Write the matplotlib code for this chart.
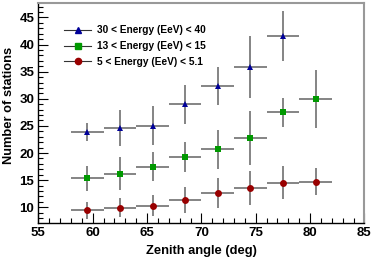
import matplotlib
matplotlib.use("Agg")
import matplotlib.pyplot as plt
from matplotlib.lines import Line2D
from matplotlib.ticker import MultipleLocator

plt.rcParams['font.family'] = ['Liberation Sans', 'DejaVu Sans']

# Data
zenith_blue = [59.5, 62.5, 65.5, 68.5, 71.5, 74.5, 77.5]
stations_blue = [23.9, 24.6, 25.0, 29.0, 32.3, 35.9, 41.6]
err_blue = [1.7, 3.3, 3.6, 3.6, 3.5, 5.7, 4.6]

zenith_green = [59.5, 62.5, 65.5, 68.5, 71.5, 74.5, 77.5, 80.5]
stations_green = [15.3, 16.2, 17.5, 19.3, 20.7, 22.7, 27.5, 30.0]
err_green = [2.3, 3.0, 2.6, 2.8, 3.6, 5.0, 2.7, 5.3]

zenith_red = [59.5, 62.5, 65.5, 68.5, 71.5, 74.5, 77.5, 80.5]
stations_red = [9.45, 9.95, 10.3, 11.3, 12.6, 13.6, 14.55, 14.7]
err_red = [1.6, 1.8, 2.0, 2.4, 2.7, 3.1, 3.05, 2.45]

bin_halfwidth = 1.5

labels = ["30 < Energy (EeV) < 40", "13 < Energy (EeV) < 15", "5 < Energy (EeV) < 5.1"]
colors = ["#000099", "#009900", "#990000"]
markers = ["^", "s", "o"]

fig = plt.figure(figsize=(3.73, 2.57), dpi=100)
ax = fig.add_axes([0.103, 0.1335, 0.874, 0.8535])

series = [(zenith_blue, stations_blue, err_blue),
          (zenith_green, stations_green, err_green),
          (zenith_red, stations_red, err_red)]
msizes = [5.0, 5.0, 5.0]
for (x, y, e), c, m, ms in zip(series, colors, markers, msizes):
    ax.errorbar(x, y, yerr=e, xerr=[bin_halfwidth] * len(x), fmt=m, color=c,
                ecolor="#707070", elinewidth=1.2, capsize=0, markersize=ms,
                markeredgewidth=0, zorder=3)

ax.set_xlim(55, 85)
ax.set_ylim(7.15, 47.6)
ax.xaxis.set_major_locator(MultipleLocator(5))
ax.xaxis.set_minor_locator(MultipleLocator(1))
ax.yaxis.set_major_locator(MultipleLocator(5))
ax.yaxis.set_minor_locator(MultipleLocator(1))
ax.tick_params(which='both', direction='in', top=False, right=False, width=0.8, color='black')
ax.tick_params(which='major', length=7, labelsize=9.5, pad=3)
ax.tick_params(which='minor', length=3.5)
for lab in ax.get_xticklabels() + ax.get_yticklabels():
    lab.set_fontweight('bold')

for s in ['top', 'right']:
    ax.spines[s].set_color('#999999')
    ax.spines[s].set_linewidth(1.5)
for s in ['left', 'bottom']:
    ax.spines[s].set_color('black')
    ax.spines[s].set_linewidth(1.0)

ax.set_xlabel("Zenith angle (deg)", fontsize=9.3, fontweight='bold')
ax.set_ylabel("Number of stations", fontsize=9.3, fontweight='bold')
ax.xaxis.set_label_coords(0.5, -0.1)
ax.yaxis.set_label_coords(-0.072, 0.536)

handles = [Line2D([0], [0], color='#333333', lw=0.8, marker=m, markersize=4.5,
                  markerfacecolor=c, markeredgecolor=c)
           for c, m in zip(colors, markers)]
leg = ax.legend(handles, labels, loc='upper left', bbox_to_anchor=(0.08, 0.90),
                frameon=False, prop={'weight': 'bold', 'size': 7.3},
                handlelength=2.6, handletextpad=0.6, labelspacing=0.58,
                borderaxespad=0, borderpad=0)

fig.savefig("out.png", dpi=100)
